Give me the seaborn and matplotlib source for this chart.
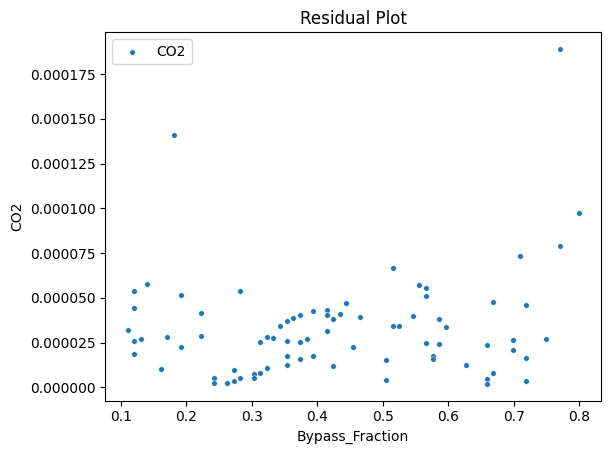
import numpy as np
import pandas as pd
import seaborn as sns
import matplotlib
matplotlib.use("Agg")
import matplotlib.pyplot as plt

# Bypass fraction values (x) and CO2 residuals (y, in units of 1e-5)
bypass_fraction = [
    0.1107, 0.1199, 0.1199, 0.1199, 0.1199, 0.1306, 0.1398, 0.1612, 0.1704, 0.1918,
    0.1918, 0.2224, 0.2224, 0.2422, 0.2422, 0.2621, 0.2728, 0.2728, 0.2820, 0.2820,
    0.3034, 0.3034, 0.3126, 0.3126, 0.3233, 0.3233, 0.3325, 0.3432, 0.3539, 0.3539,
    0.3539, 0.3539, 0.3631, 0.3738, 0.3738, 0.3738, 0.3845, 0.3937, 0.3937, 0.4151,
    0.4151, 0.4151, 0.4243, 0.4243, 0.4350, 0.4441, 0.4548, 0.4655, 0.5053, 0.5053,
    0.5160, 0.5160, 0.5252, 0.5466, 0.5558, 0.5665, 0.5665, 0.5665, 0.5864, 0.5971,
    0.5864, 0.5772, 0.5772, 0.6277, 0.6583, 0.6583, 0.6583, 0.6675, 0.6675, 0.6980,
    0.6980, 0.7088, 0.7179, 0.7179, 0.7179, 0.7485, 0.7699, 0.1811, 0.7699, 0.7990,
]
co2_e5 = [
    3.196, 5.367, 4.421, 2.583, 1.860, 2.695, 5.757, 1.024, 2.806, 5.145,
    2.249, 4.143, 2.862, 0.523, 0.245, 0.245, 0.969, 0.356, 5.367, 0.523,
    0.746, 0.523, 0.802, 2.528, 2.806, 1.080, 2.751, 3.419, 3.697, 2.583,
    1.748, 1.247, 3.864, 4.031, 2.528, 1.581, 2.695, 4.254, 1.748, 4.310,
    4.031, 3.140, 3.808, 1.192, 4.087, 4.699, 2.249, 3.920, 1.526, 0.412,
    6.648, 3.419, 3.419, 3.976, 5.702, 5.535, 5.089, 2.472, 3.808, 3.363,
    2.416, 1.748, 1.581, 1.247, 2.361, 0.468, 0.189, 4.755, 0.802, 2.639,
    2.082, 7.316, 4.588, 1.637, 0.356, 2.695, 7.873, 14.109, 18.898, 9.766,
]

df = pd.DataFrame({
    "Bypass_Fraction": bypass_fraction,
    "CO2": np.array(co2_e5) * 1e-5,
})

fig = plt.figure(figsize=(6.11, 4.55), dpi=100)
ax = fig.add_axes([0.1723, 0.1193, 0.8117, 0.8097])

sns.scatterplot(data=df, x="Bypass_Fraction", y="CO2", s=16, color="#1f77b4",
                label="CO2", ax=ax)

ax.set_title("Residual Plot")
ax.set_xlabel("Bypass_Fraction")
ax.set_ylabel("CO2")
ax.legend(loc="upper left")

plt.savefig("out.png", dpi=100)
